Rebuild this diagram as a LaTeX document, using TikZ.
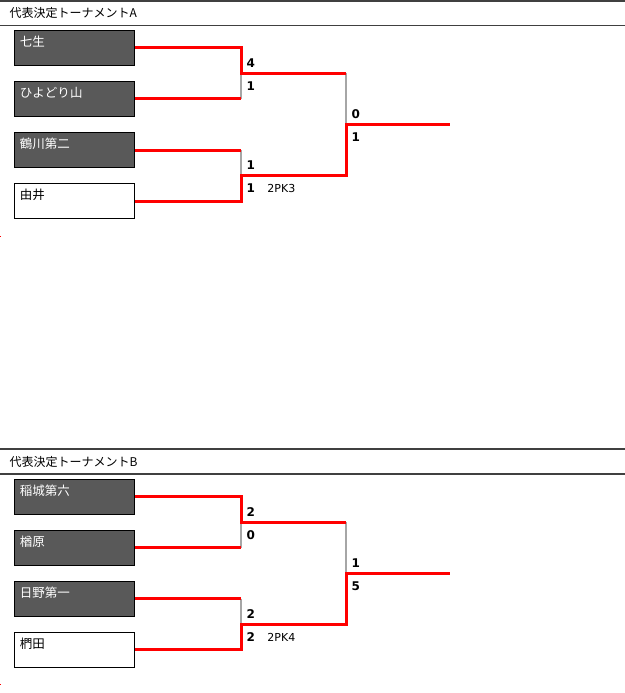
\documentclass[tikz,border=0pt]{standalone}
\usepackage{fontspec}
\setmainfont{Noto Sans CJK JP}
\newfontfamily\numfont{DejaVu Sans}
\usetikzlibrary{positioning}

\begin{document}
\begin{tikzpicture}[x=1bp, y=-1bp,
    hdr/.style={draw=black!75, line width=1.7bp},
    hdrtext/.style={anchor=base west, inner sep=0pt, font=\fontsize{12bp}{14bp}\selectfont},
    team/.style={draw=black, line width=1bp, fill=black!65, text=white, align=left,
                 text width=109bp, inner xsep=5bp, inner ysep=0pt,
                 text height=16bp, text depth=19bp, font=\fontsize{12.5bp}{14bp}\selectfont},
    guest/.style={team, fill=white, text=black},
    win/.style={draw=red, line width=3bp},
    lose/.style={draw=black!35, line width=2bp},
    score/.style={inner sep=0pt, font=\numfont\bfseries\fontsize{12bp}{14bp}\selectfont},
    pk/.style={inner sep=0pt, font=\numfont\fontsize{11bp}{13bp}\selectfont}]
        \useasboundingbox (0,0) rectangle (625,693);
        %% トーナメントA
        \draw[hdr] (0,0.8) -- (625,0.8);
        \draw[hdr] (0,25.5) -- (625,25.5);
        \node[hdrtext] (titA) at (9.5,18) {代表決定トーナメントA};
        \node[team]  (a1) at (74.5,48)  {七生};
        \node[team]  (a2) at (74.5,99)  {ひよどり山};
        \node[team]  (a3) at (74.5,150) {鶴川第二};
        \node[guest] (a4) at (74.5,201) {由井};
        \coordinate (ma1) at (241,73.5);
        \coordinate (ma2) at (241,175.5);
        \coordinate (fa) at (346,124.5);
        \coordinate (wa) at (450,124.5);
        \fill[red] (0,235.5) rectangle (1.2,236.8);
        %% 敗者側
        \draw[lose] (a2.east -| ma1) -- (ma1);
        \draw[lose] (a3.east -| ma2) -- (ma2);
        \draw[lose] (ma1 -| fa) -- (fa);
        %% 勝者側
        \draw[win] (a1.east) -| (ma1) -- (ma1 -| fa);
        \draw[win] (a2.east) -- (a2.east -| ma1);
        \draw[win] (a3.east) -- (a3.east -| ma2);
        \draw[win] (a4.east) -| (ma2) -| (fa) -- (wa);
        %% スコア
        \node[score, above right=5.5bp and 5.5bp of ma1] (sa1) {4};
        \node[score, below right=8.5bp and 5.5bp of ma1] (sa2) {1};
        \node[score, above right=5.5bp and 5.5bp of ma2] (sa3) {1};
        \node[score, below right=8.5bp and 5.5bp of ma2] (sa4) {1};
        \node[pk, right=12bp of sa4] (pka) {2PK3};
        \node[score, above right=5.3bp and 5.5bp of fa] (sa5) {0};
        \node[score, below right=8.5bp and 5.5bp of fa] (sa6) {1};
        %% トーナメントB
        \begin{scope}[shift={(0,448.5)}]
        \draw[hdr] (0,0.8) -- (625,0.8);
        \draw[hdr] (0,25.5) -- (625,25.5);
        \node[hdrtext] (titB) at (9.5,18) {代表決定トーナメントB};
        \node[team]  (b1) at (74.5,48)  {稲城第六};
        \node[team]  (b2) at (74.5,99)  {楢原};
        \node[team]  (b3) at (74.5,150) {日野第一};
        \node[guest] (b4) at (74.5,201) {椚田};
        \coordinate (mb1) at (241,73.5);
        \coordinate (mb2) at (241,175.5);
        \coordinate (fb) at (346,124.5);
        \coordinate (wb) at (450,124.5);
        \fill[red] (0,235.5) rectangle (1.2,236.8);
        %% 敗者側
        \draw[lose] (b2.east -| mb1) -- (mb1);
        \draw[lose] (b3.east -| mb2) -- (mb2);
        \draw[lose] (mb1 -| fb) -- (fb);
        %% 勝者側
        \draw[win] (b1.east) -| (mb1) -- (mb1 -| fb);
        \draw[win] (b2.east) -- (b2.east -| mb1);
        \draw[win] (b3.east) -- (b3.east -| mb2);
        \draw[win] (b4.east) -| (mb2) -| (fb) -- (wb);
        %% スコア
        \node[score, above right=5.5bp and 5.5bp of mb1] (sb1) {2};
        \node[score, below right=8.5bp and 5.5bp of mb1] (sb2) {0};
        \node[score, above right=5.5bp and 5.5bp of mb2] (sb3) {2};
        \node[score, below right=8.5bp and 5.5bp of mb2] (sb4) {2};
        \node[pk, right=12bp of sb4] (pkb) {2PK4};
        \node[score, above right=5.3bp and 5.5bp of fb] (sb5) {1};
        \node[score, below right=8.5bp and 5.5bp of fb] (sb6) {5};
        \end{scope}
    \end{tikzpicture}
\end{document}
